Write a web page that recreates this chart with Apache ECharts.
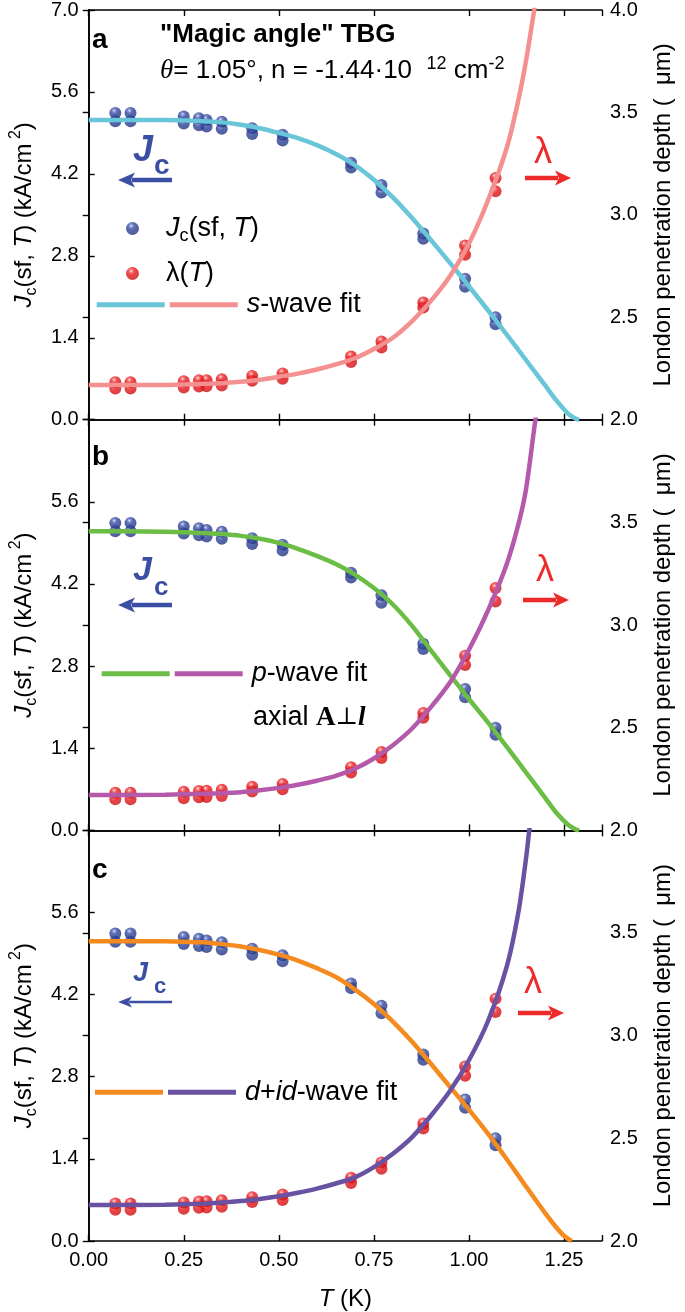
<!DOCTYPE html>
<html><head><meta charset="utf-8">
<script src="https://cdn.jsdelivr.net/npm/echarts@6/dist/echarts.min.js"></script>
<style>html,body{margin:0;padding:0;background:#fff}#c{width:685px;height:1312px}</style>
</head><body><div id="c"></div>
<script>
// ---------------- data ----------------
const T_meas    = [0.07, 0.11, 0.25, 0.29, 0.31, 0.35, 0.43, 0.51, 0.69, 0.77, 0.88, 0.99, 1.07];
const Jc_upper  = [5.24, 5.24, 5.18, 5.15, 5.12, 5.09, 4.98, 4.87, 4.39, 4.01, 3.18, 2.41, 1.75];
const Jc_lower  = [5.10, 5.10, 5.06, 5.03, 5.01, 4.97, 4.88, 4.77, 4.31, 3.88, 3.09, 2.27, 1.63];
const lam_upper = [2.183, 2.183, 2.188, 2.192, 2.193, 2.198, 2.213, 2.226, 2.308, 2.382, 2.572, 2.85, 3.18];
const lam_lower = [2.152, 2.152, 2.157, 2.162, 2.163, 2.167, 2.19, 2.20, 2.282, 2.352, 2.548, 2.805, 3.115];

// s-wave fit (panel a)
const sJc_T  = [0, 0.1, 0.2, 0.3, 0.35, 0.4, 0.45, 0.5, 0.55, 0.6, 0.65, 0.7, 0.75, 0.8, 0.85, 0.9, 0.95, 1.0, 1.05, 1.1, 1.15, 1.2, 1.23, 1.26, 1.28, 1.29];
const sJc    = [5.12, 5.12, 5.12, 5.10, 5.08, 5.04, 4.98, 4.90, 4.81, 4.69, 4.54, 4.35, 4.10, 3.80, 3.45, 3.07, 2.68, 2.28, 1.87, 1.45, 1.02, 0.59, 0.33, 0.11, 0.02, 0.0];
const sLam_T = [0, 0.2, 0.3, 0.35, 0.4, 0.45, 0.5, 0.55, 0.6, 0.65, 0.7, 0.75, 0.8, 0.85, 0.9, 0.95, 1.0, 1.05, 1.1, 1.13, 1.15, 1.17, 1.18];
const sLam   = [2.17, 2.17, 2.175, 2.178, 2.185, 2.195, 2.21, 2.225, 2.245, 2.27, 2.30, 2.345, 2.40, 2.48, 2.58, 2.70, 2.86, 3.07, 3.33, 3.56, 3.75, 3.98, 4.1];

// p-wave fit (panel b)
const pJc_T  = [0, 0.1, 0.2, 0.3, 0.35, 0.4, 0.45, 0.5, 0.55, 0.6, 0.65, 0.7, 0.75, 0.8, 0.85, 0.9, 0.95, 1.0, 1.05, 1.1, 1.15, 1.2, 1.23, 1.26, 1.28, 1.29];
const pJc    = [5.10, 5.10, 5.09, 5.07, 5.05, 5.02, 4.97, 4.90, 4.80, 4.68, 4.54, 4.36, 4.13, 3.85, 3.49, 3.07, 2.65, 2.24, 1.84, 1.42, 0.99, 0.56, 0.30, 0.10, 0.02, 0.0];
const pLam_T = [0, 0.2, 0.3, 0.4, 0.45, 0.5, 0.55, 0.6, 0.65, 0.7, 0.75, 0.8, 0.85, 0.9, 0.95, 1.0, 1.05, 1.1, 1.13, 1.15, 1.175, 1.185];
const pLam   = [2.172, 2.174, 2.178, 2.186, 2.195, 2.207, 2.222, 2.242, 2.266, 2.30, 2.35, 2.415, 2.495, 2.60, 2.72, 2.88, 3.07, 3.30, 3.49, 3.66, 4.0, 4.1];

// d+id-wave fit (panel c)
const dJc_T  = [0, 0.1, 0.2, 0.25, 0.3, 0.35, 0.4, 0.45, 0.5, 0.55, 0.6, 0.65, 0.7, 0.75, 0.8, 0.85, 0.9, 0.95, 1.0, 1.05, 1.1, 1.15, 1.2, 1.23, 1.25, 1.27];
const dJc    = [5.11, 5.11, 5.11, 5.10, 5.09, 5.06, 5.02, 4.96, 4.88, 4.78, 4.65, 4.50, 4.29, 4.04, 3.74, 3.40, 3.02, 2.63, 2.24, 1.83, 1.39, 0.93, 0.48, 0.23, 0.09, 0.0];
const dLam_T = [0, 0.2, 0.3, 0.4, 0.45, 0.5, 0.55, 0.6, 0.65, 0.7, 0.75, 0.8, 0.85, 0.9, 0.95, 1.0, 1.05, 1.1, 1.13, 1.15, 1.16, 1.17];
const dLam   = [2.175, 2.177, 2.182, 2.195, 2.205, 2.218, 2.235, 2.255, 2.28, 2.31, 2.36, 2.425, 2.505, 2.61, 2.73, 2.88, 3.07, 3.34, 3.60, 3.86, 4.02, 4.15];

const xTickLabels = ['0.00', '0.25', '0.50', '0.75', '1.00', '1.25'];
const panelLetters = ['a', 'b', 'c'];

// ---------------- layout / style ----------------
const FONT = 'Liberation Sans, Arial, sans-serif';
const PANEL_TOPS = [9, 419.7, 830.3];
const PANEL_H = 410.7;
const GRID_LEFT = 77.3, GRID_W = 533.4;
const JC_COLORS = ['#68C6D8', '#6BBD45', '#F58A1F'];
const LAM_COLORS = ['#F4908F', '#B55AAB', '#6A52A3'];
const BLUE = '#3A4FA3', RED = '#EE2B2B';

const blueBall = {type:'radial', x:0.4, y:0.3, r:0.75, colorStops:[
  {offset:0, color:'#f2f4ff'}, {offset:0.14, color:'#6f80cc'}, {offset:0.38, color:'#2f449a'}, {offset:1, color:'#22337f'}]};
const redBall = {type:'radial', x:0.4, y:0.3, r:0.75, colorStops:[
  {offset:0, color:'#fff0f0'}, {offset:0.14, color:'#f46a6a'}, {offset:0.38, color:'#e8171c'}, {offset:1, color:'#c80e12'}]};

const fits = [
  {jT: sJc_T, j: sJc, lT: sLam_T, l: sLam},
  {jT: pJc_T, j: pJc, lT: pLam_T, l: pLam},
  {jT: dJc_T, j: dJc, lT: dLam_T, l: dLam}
];

const grids = [], xAxes = [], yAxes = [], series = [], legends = [], graphics = [];

const richAxis = {
  i: {fontStyle:'italic', fontSize:24, fontFamily:FONT, lineHeight:32},
  sub: {fontSize:16, fontFamily:FONT, verticalAlign:'bottom', lineHeight:26},
  sup: {fontSize:16, fontFamily:FONT, verticalAlign:'top', lineHeight:26}
};

for (let p = 0; p < 3; p++) {
  const top = PANEL_TOPS[p];
  grids.push({left: GRID_LEFT, width: GRID_W, top: top, height: PANEL_H, containLabel:false});
  const axisLine = {show:true, lineStyle:{color:'#000', width:1.6}};
  xAxes.push({
    type:'value', gridIndex:p, position:'bottom', min:0, max:1.35, interval:0.25,
    axisLine: axisLine, splitLine:{show:false},
    axisTick:{show:true, inside:true, length:6, lineStyle:{color:'#000', width:1.4}},
    axisLabel:{show: p === 2, fontSize:20, color:'#000', fontFamily:FONT, margin:9,
      formatter: v => { const k = Math.round(v / 0.25); return Math.abs(v - k*0.25) < 1e-6 && k < xTickLabels.length ? xTickLabels[k] : ''; }},
    name: p === 2 ? '{i|T} (K)' : '', nameLocation:'middle', nameGap:42,
    nameTextStyle:{fontSize:24, fontFamily:FONT, color:'#000', rich: richAxis}
  });
  xAxes.push({
    type:'value', gridIndex:p, position:'top', min:0, max:1.35, interval:0.25,
    axisLine: axisLine, splitLine:{show:false},
    axisTick:{show:true, inside:true, length:6, lineStyle:{color:'#000', width:1.4}},
    axisLabel:{show:false}
  });
  yAxes.push({
    type:'value', gridIndex:p, position:'left', min:0, max:7, interval:1.4,
    axisLine: axisLine, splitLine:{show:false},
    axisTick:{show:true, inside:true, length:6, lineStyle:{color:'#000', width:1.4}},
    axisLabel:{fontSize:20, color:'#000', fontFamily:FONT, margin:10,
      formatter: v => (p > 0 && v > 6.99) ? '' : v.toFixed(1)},
    name:'{i|J}{sub|c}(sf, {i|T}) (kA/cm{sup| 2})', nameLocation:'middle', nameRotate:90, nameGap:44,
    nameTextStyle:{fontSize:24, fontFamily:FONT, color:'#000', lineHeight:32, rich: richAxis}
  });
  yAxes.push({
    type:'value', gridIndex:p, position:'right', min:2, max:4, interval:0.5,
    axisLine: axisLine, splitLine:{show:false},
    axisTick:{show:true, inside:true, length:6, lineStyle:{color:'#000', width:1.4}},
    axisLabel:{fontSize:20, color:'#000', fontFamily:FONT, margin:8,
      formatter: v => (p > 0 && v > 3.99) ? '' : v.toFixed(1)},
    name:'London penetration depth (  \u03bcm)', nameLocation:'middle', nameRotate:90, nameGap:47,
    nameTextStyle:{fontSize:24, fontFamily:FONT, color:'#000', lineHeight:28}
  });

  const xb = 2*p, ly = 2*p, ry = 2*p + 1;
  const jcPts = [], lamPts = [];
  T_meas.forEach((t, k) => { jcPts.push([t, Jc_lower[k]]); jcPts.push([t, Jc_upper[k]]); });
  T_meas.forEach((t, k) => { lamPts.push([t, lam_lower[k]]); lamPts.push([t, lam_upper[k]]); });

  series.push({name:'Jc-' + p, type:'scatter', xAxisIndex:xb, yAxisIndex:ly, data:jcPts,
    symbolSize:12, itemStyle:{color:blueBall}, z:2, silent:true});
  series.push({name:'lam-' + p, type:'scatter', xAxisIndex:xb, yAxisIndex:ry, data:lamPts,
    symbolSize:12, itemStyle:{color:redBall}, z:2, silent:true});
  const f = fits[p];
  series.push({name:'JcFit-' + p, type:'line', xAxisIndex:xb, yAxisIndex:ly,
    data: f.jT.map((t, k) => [t, f.j[k]]), showSymbol:false, symbol:'none', smooth:0.3, clip:true,
    color: JC_COLORS[p], itemStyle:{color:JC_COLORS[p]}, lineStyle:{color:JC_COLORS[p], width:4.5}, z:3, silent:true});
  series.push({name:'lamFit-' + p, type:'line', xAxisIndex:xb, yAxisIndex:ry,
    data: f.lT.map((t, k) => [t, f.l[k]]), showSymbol:false, symbol:'none', smooth:0.3, clip:true,
    color: LAM_COLORS[p], itemStyle:{color:LAM_COLORS[p]}, lineStyle:{color:LAM_COLORS[p], width:4.5}, z:3, silent:true});
}

const legendText = {fontSize:27, fontFamily:FONT, color:'#000',
  rich:{i:{fontStyle:'italic', fontSize:27, fontFamily:FONT, lineHeight:34},
        sub:{fontSize:18, fontFamily:FONT, verticalAlign:'bottom', lineHeight:28},
        n:{fontSize:27, fontFamily:FONT, lineHeight:34},
        sp:{width:4, fontSize:27, lineHeight:34}}};

legends.push({data:['Jc-0'], left:121, top:227 - 17, itemWidth:57, itemHeight:13, icon:'circle',
  selectedMode:false, textStyle:legendText, formatter: () => '{i|J}{sub|c}{n|(sf, }{i|T}{n|)}'});
legends.push({data:['lam-0'], left:121, top:272 - 17, itemWidth:57, itemHeight:13, icon:'circle',
  selectedMode:false, textStyle:legendText, formatter: () => '{n|\u03bb(}{i|T}{n|)}'});
const fitLegendPos = [[96.7, 308.3], [101.7, 677.3], [95, 1095.7]];
for (let p = 0; p < 3; p++) {
  legends.push({data:['JcFit-' + p, 'lamFit-' + p], left:fitLegendPos[p][0], top:fitLegendPos[p][1] - 17,
    padding:0, orient:'horizontal', itemGap:5, itemWidth:68, itemHeight:5, icon:'rect', selectedMode:false,
    textStyle:legendText,
    formatter: name => {
      if (name.indexOf('lamFit') !== 0) return '';
      if (p === 0) return '{sp|}{i|s}{n|-wave fit}';
      if (p === 1) return '{sp|}{i|p}{n|-wave fit}';
      return '{sp|}{i|d}{n|+}{i|id}{n|-wave fit}';
    }});
}

// ---------------- annotations ----------------
function addText(x, y, text, style) {
  graphics.push({type:'text', x:x, y:y, silent:true, z:10,
    style: Object.assign({text:text, fill:'#000', align:'left', verticalAlign:'middle'}, style)});
}
function arrow(x1, x2, y, w, head, hw, color) {
  const dir = Math.sign(x2 - x1);
  graphics.push({type:'line', silent:true, z:10, shape:{x1:x1, y1:y, x2:x2 - dir*head*0.8, y2:y},
    style:{stroke:color, lineWidth:w}});
  graphics.push({type:'polygon', silent:true, z:10,
    shape:{points:[[x2, y], [x2 - dir*head, y - hw], [x2 - dir*head*0.75, y], [x2 - dir*head, y + hw]]},
    style:{fill:color}});
}

const letterY = [40, 457, 870];
for (let p = 0; p < 3; p++) {
  addText(92, letterY[p], panelLetters[p], {font:'bold 28px ' + FONT});
}
addText(160, 35, '"Magic angle" TBG', {font:'bold 26px ' + FONT});
addText(160, 71, '{it|\u03b8}{n|= 1.05\u00b0, n = -1.44\u00b710  }{sup|12}{n| cm}{sup|-2}', {
  font:'26px ' + FONT,
  rich:{it:{fontStyle:'italic', fontSize:27, fontFamily:'Liberation Serif, serif', lineHeight:32},
        n:{fontSize:26, fontFamily:FONT, lineHeight:32},
        sup:{fontSize:18, fontFamily:FONT, verticalAlign:'top', lineHeight:18}}});

const jcLab = [
  {y:151, cy:166, ay:180, jf:36, cf:28, w:4.5, head:17, hw:7.5},
  {y:571, cy:588, ay:605, jf:34, cf:26, w:4.5, head:17, hw:7.5},
  {y:974, cy:987, ay:1002, jf:27, cf:22, w:2.6, head:14, hw:5.5}
];
jcLab.forEach(o => {
  addText(133, o.y, 'J', {font:'bold italic ' + o.jf + 'px ' + FONT, fill:BLUE});
  addText(154, o.cy, 'c', {font:'bold ' + o.cf + 'px ' + FONT, fill:BLUE});
  arrow(172, 118, o.ay, o.w, o.head, o.hw, BLUE);
});
const lamLab = [
  {x:534, y:153, ax1:525, ax2:571, ay:178},
  {x:536, y:571, ax1:523, ax2:569, ay:600},
  {x:524, y:983, ax1:518, ax2:564, ay:1013}
];
lamLab.forEach(o => {
  addText(o.x, o.y, '\u03bb', {font:'36px ' + FONT, fill:RED});
  arrow(o.ax1, o.ax2, o.ay, 4.5, 16, 7.5, RED);
});
addText(253, 718, '{n|axial }{A|A}{p|\u22a5}{l|l}', {
  font:'27px ' + FONT,
  rich:{n:{fontSize:27, fontFamily:FONT},
        A:{fontSize:27, fontWeight:'bold', fontFamily:'Liberation Serif, serif'},
        p:{fontSize:24, fontFamily:'DejaVu Serif, serif'},
        l:{fontSize:27, fontWeight:'bold', fontStyle:'italic', fontFamily:'Liberation Serif, serif'}}});

const chart = echarts.init(document.getElementById('c'), null, {renderer:'canvas'});
chart.setOption({
  animation:false,
  backgroundColor:'#fff',
  textStyle:{fontFamily:FONT},
  grid: grids, xAxis: xAxes, yAxis: yAxes, series: series, legend: legends, graphic: graphics
});
</script></body></html>
